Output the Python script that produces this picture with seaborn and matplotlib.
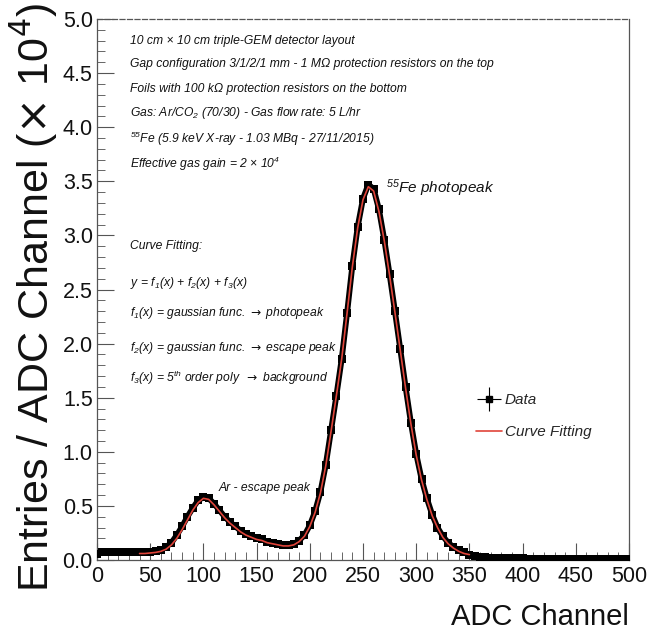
import numpy as np
import pandas as pd
import matplotlib
matplotlib.use("Agg")
import matplotlib.pyplot as plt
import seaborn as sns
from matplotlib.lines import Line2D
from matplotlib.legend_handler import HandlerTuple
from matplotlib.ticker import MultipleLocator, FormatStrFormatter

# ---------------- data (values in units of 10^4 entries / ADC channel) ----------------
data_channel = list(range(0, 505, 5))
data_entries = [
    0.06, 0.07, 0.07, 0.07, 0.07, 0.07, 0.07, 0.07, 0.07, 0.07,   # 0-45
    0.07, 0.08, 0.09, 0.12, 0.16, 0.23, 0.31, 0.40, 0.48, 0.55,   # 50-95
    0.58, 0.57, 0.52, 0.46, 0.40, 0.35, 0.31, 0.27, 0.24, 0.22,   # 100-145
    0.20, 0.19, 0.17, 0.16, 0.15, 0.14, 0.14, 0.15, 0.18, 0.23,   # 150-195
    0.32, 0.45, 0.63, 0.88, 1.20, 1.52, 1.86, 2.28, 2.72, 3.08,   # 200-245
    3.34, 3.47, 3.43, 3.24, 2.96, 2.64, 2.30, 1.95, 1.60, 1.27,   # 250-295
    0.98, 0.75, 0.57, 0.42, 0.30, 0.22, 0.16, 0.12, 0.09, 0.07,   # 300-345
    0.05, 0.04, 0.03, 0.025, 0.02, 0.02, 0.018, 0.016, 0.015, 0.015,  # 350-395
    0.014, 0.013, 0.013, 0.012, 0.012, 0.012, 0.011, 0.011, 0.011, 0.010,  # 400-445
    0.010, 0.010, 0.010, 0.010, 0.010, 0.010, 0.010, 0.010, 0.010, 0.010,  # 450-495
    0.010,                                                         # 500
]

fit_channel = list(range(40, 355, 5))
fit_entries = [
    0.06, 0.06, 0.065, 0.07, 0.08, 0.10, 0.14, 0.20, 0.28, 0.37,  # 40-85
    0.46, 0.53, 0.57, 0.56, 0.51, 0.45, 0.39, 0.34, 0.30, 0.26,   # 90-135
    0.23, 0.21, 0.19, 0.18, 0.16, 0.15, 0.14, 0.13, 0.13, 0.14,   # 140-185
    0.17, 0.22, 0.31, 0.44, 0.62, 0.87, 1.19, 1.52, 1.86, 2.28,   # 190-235
    2.71, 3.07, 3.33, 3.45, 3.41, 3.22, 2.95, 2.63, 2.29, 1.94,   # 240-285
    1.59, 1.26, 0.97, 0.74, 0.56, 0.41, 0.30, 0.21, 0.15, 0.11,   # 290-335
    0.08, 0.06, 0.05,                                             # 340-350
]

ARROW = r"$\mathcal{\rightarrow}$"
info_lines = [
    "10 cm × 10 cm triple-GEM detector layout",
    "Gap configuration 3/1/2/1 mm - 1 MΩ protection resistors on the top",
    "Foils with 100 kΩ protection resistors on the bottom",
    r"Gas: Ar/CO$_{\mathit{2}}$ (70/30) - Gas flow rate: 5 L/hr",
    r"$^{\mathit{55}}$Fe (5.9 keV X-ray - 1.03 MBq - 27/11/2015)",
    r"Effective gas gain = 2 × 10$^{\mathit{4}}$",
]
fit_lines = [
    "Curve Fitting:",
    r"y = f$_{\mathit{1}}$(x) + f$_{\mathit{2}}$(x) + f$_{\mathit{3}}$(x)",
    r"f$_{\mathit{1}}$(x) = gaussian func. " + ARROW + " photopeak",
    r"f$_{\mathit{2}}$(x) = gaussian func. " + ARROW + " escape peak",
    r"f$_{\mathit{3}}$(x) = 5$^{\mathit{th}}$ order poly  " + ARROW + " background",
]

df_data = pd.DataFrame({"channel": data_channel, "entries": data_entries})
df_fit = pd.DataFrame({"channel": fit_channel, "entries": fit_entries})

# ---------------- styling ----------------
sns.set_theme(style="white")
plt.rcParams["font.family"] = ["Liberation Sans", "DejaVu Sans"]
plt.rcParams["mathtext.fontset"] = "custom"
plt.rcParams["mathtext.rm"] = "Liberation Sans:italic"
plt.rcParams["mathtext.it"] = "Liberation Sans:italic"
plt.rcParams["mathtext.sf"] = "Liberation Sans:italic"
plt.rcParams["mathtext.cal"] = "DejaVu Sans"

fig = plt.figure(figsize=(6.52, 6.31), dpi=100)
ax = fig.add_axes([97 / 652, 71 / 631, 532 / 652, 541 / 631])

FIT_RED = "#e0443a"

sns.lineplot(data=df_data, x="channel", y="entries", ax=ax, color="black",
             linewidth=4.2, zorder=2)
sns.scatterplot(data=df_data, x="channel", y="entries", ax=ax, marker="s",
                s=30, color="black", edgecolor="black", linewidth=0, zorder=3)
sns.lineplot(data=df_fit, x="channel", y="entries", ax=ax, color=FIT_RED,
             linewidth=1.2, zorder=4)

ax.set_xlim(0, 500)
ax.set_ylim(0, 5.0)
ax.xaxis.set_major_locator(MultipleLocator(50))
ax.xaxis.set_minor_locator(MultipleLocator(10))
ax.yaxis.set_major_locator(MultipleLocator(0.5))
ax.yaxis.set_minor_locator(MultipleLocator(0.1))
ax.xaxis.set_major_formatter(FormatStrFormatter("%d"))
ax.yaxis.set_major_formatter(FormatStrFormatter("%.1f"))

ax.tick_params(axis="both", which="major", direction="in", length=12, width=0.8,
               color="#555555", labelsize=15.5, labelcolor="#111111",
               bottom=True, left=True, top=False, right=False)
ax.tick_params(axis="both", which="minor", direction="in", length=6, width=0.7,
               color="#666666", bottom=True, left=True, top=False, right=False)
ax.tick_params(axis="x", which="major", pad=4)
ax.tick_params(axis="y", which="major", pad=3)

for side in ["top", "right", "left", "bottom"]:
    ax.spines[side].set_visible(True)
    ax.spines[side].set_color("#555555")
    ax.spines[side].set_linewidth(0.9)
ax.spines["top"].set_linestyle((0, (4, 2)))

ax.set_xlabel("ADC Channel", fontsize=21, family="Liberation Sans",
              color="#111111", loc="right", labelpad=12)
ax.set_ylabel(r"Entries / ADC Channel ($\times$ 10$^4$)", fontsize=31,
              family="Liberation Sans", color="#111111", loc="top", labelpad=2)
ax.yaxis.label.set_math_fontfamily("dejavusans")
ax.yaxis.set_label_coords(-0.118, 1.03, transform=ax.transAxes)
ax.yaxis.label.set_va("center")

# annotation texts
TXT = dict(fontsize=8.7, style="italic", color="#111111", ha="left", va="center")
info_y = [4.80, 4.58, 4.35, 4.13, 3.89, 3.66]
for yv, s in zip(info_y, info_lines):
    ax.text(31, yv, s, **TXT)
fit_y = [2.90, 2.56, 2.28, 1.96, 1.68]
for yv, s in zip(fit_y, fit_lines):
    ax.text(31, yv, s, **TXT)

ax.text(272, 3.44, r"$^{\mathit{55}}$Fe photopeak", fontsize=11, style="italic",
        color="#111111", ha="left", va="center")
ax.text(114, 0.67, "Ar - escape peak", fontsize=8.7, style="italic",
        color="#111111", ha="left", va="center")

# legend
h_data = (Line2D([], [], color="black", marker="+", markersize=17, linestyle="none",
                 markeredgewidth=0.8),
          Line2D([], [], color="black", marker="s", markersize=4.5, linestyle="none"))
h_fit = Line2D([], [], color=FIT_RED, linewidth=1.2)
leg = ax.legend([h_data, h_fit], ["Data", "Curve Fitting"],
                handler_map={tuple: HandlerTuple(ndivide=1)},
                loc="center left", bbox_to_anchor=(0.686, 0.266), frameon=False,
                prop={"family": "Liberation Sans", "style": "italic", "size": 11},
                handlelength=1.7, handletextpad=0.2, labelspacing=1.2)

fig.savefig("out.png", dpi=100)
